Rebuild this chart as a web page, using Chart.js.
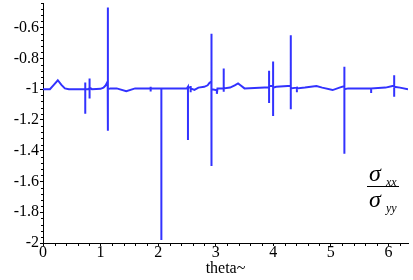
<!DOCTYPE html>
<html>
<head>
<meta charset="utf-8">
<script src="https://cdn.jsdelivr.net/npm/chart.js@4"></script>
<style>
html,body{margin:0;padding:0;background:#fff;}
#wrap{width:413px;height:280px;position:relative;}
</style>
</head>
<body>
<div id="wrap"><canvas id="plot"></canvas></div>
<script>
// theta values and the stress ratio (a spike = several points at the same theta)
const theta = [0,0.12,0.18,0.257,0.32,0.38,0.45,0.72,
  0.734,0.734,0.734,0.734,0.78,0.809,0.809,0.809,0.809,0.85,1.0,1.05,1.09,1.124,
  1.127,1.127,1.127,1.17,1.28,1.447,1.6,1.84,1.87,1.87,1.87,1.87,2.0,
  2.056,2.056,2.056,2.3,2.5,2.518,2.518,2.518,2.565,2.565,2.565,2.565,2.63,2.7,2.8,
  2.86,2.89,2.925,2.925,2.925,2.93,3.0,3.02,3.02,3.03,3.12,3.139,3.139,3.139,3.139,
  3.25,3.33,3.388,3.43,3.5,3.85,3.927,3.927,3.927,3.927,3.997,3.997,3.997,3.997,4.05,
  4.25,4.304,4.304,4.304,4.304,4.41,4.41,4.41,4.41,4.55,4.75,4.85,5.03,5.15,
  5.235,5.235,5.235,5.235,5.3,5.7,5.7,5.7,5.7,5.95,6.07,6.1,6.1,6.1,6.1,6.2,6.34];
const ratio = [-1,-1,-0.975,-0.942,-0.972,-0.995,-1,-1,
  -1.0,-0.957,-1.16,-1.0,-1.0,-0.995,-0.93,-1.06,-0.99,-1.0,-0.998,-0.99,-0.975,-0.95,
  -0.47,-1.27,-1.0,-0.995,-0.995,-1.013,-0.995,-0.995,-0.995,-0.985,-1.015,-0.995,-0.995,
  -0.995,-1.98,-0.995,-0.995,-0.995,-0.985,-1.33,-0.99,-0.99,-0.98,-1.02,-0.995,-1.005,-0.99,-0.985,
  -0.975,-0.96,-0.95,-0.64,-1.5,-1.0,-1.005,-1.005,-1.03,-0.995,-0.995,-0.995,-0.866,-1.017,-0.995,
  -0.99,-0.975,-0.963,-0.975,-0.995,-0.99,-0.99,-0.88,-1.09,-0.98,-0.98,-0.82,-1.175,-0.99,-0.985,
  -0.98,-0.98,-0.65,-1.13,-0.995,-0.99,-0.985,-1.02,-0.995,-0.99,-0.98,-0.99,-1.006,-0.99,
  -0.98,-0.855,-1.42,-1.0,-0.995,-0.995,-0.99,-1.025,-0.995,-0.99,-0.98,-0.98,-0.91,-1.05,-0.985,-0.99,-1.0];
const xTicks = [0,1,2,3,4,5,6];
const yTicks = [-2,-1.8,-1.6,-1.4,-1.2,-1,-0.8,-0.6];

const serif = 'Liberation Serif';
Chart.defaults.font.family = serif;
Chart.defaults.font.size = 16;
Chart.defaults.color = '#000';

const minorTicks = {
  id: 'minorTicks',
  afterDraw(chart){
    const ctx = chart.ctx, xs = chart.scales.x, ys = chart.scales.y;
    const a = chart.chartArea;
    ctx.save();
    ctx.strokeStyle = '#000';
    ctx.lineWidth = 1;
    ctx.beginPath();
    for (let k = 1; k < 32; k++) {
      if (k % 5 == 0) continue;
      const px = Math.round(xs.getPixelForValue(k * 0.2)) + 0.5;
      if (px > a.right) break;
      ctx.moveTo(px, a.bottom); ctx.lineTo(px, a.bottom + 3);
    }
    for (let k = 1; k < 40; k++) {
      if (k % 5 == 0) continue;
      const py = Math.round(ys.getPixelForValue(-2 + k * 0.04)) + 0.5;
      if (py < a.top) break;
      ctx.moveTo(a.left - 2, py); ctx.lineTo(a.left, py);
    }
    ctx.stroke();

    // sigma_xx / sigma_yy text
    ctx.fillStyle = '#000';
    ctx.textBaseline = 'alphabetic';
    ctx.textAlign = 'left';
    ctx.font = 'italic 24px ' + serif;
    ctx.fillText('\u03c3', 369, 181);
    ctx.fillText('\u03c3', 369, 207);
    ctx.font = 'italic 12px ' + serif;
    ctx.fillText('xx', 386, 186);
    ctx.fillText('yy', 386, 212);
    ctx.fillRect(367, 186, 32, 1);
    ctx.restore();
  }
};

new Chart(document.getElementById('plot'), {
  type: 'scatter',
  data: {
    datasets: [{
      data: theta.map((t, i) => ({x: t, y: ratio[i]})),
      showLine: true,
      borderColor: '#3232ff',
      borderWidth: 2,
      pointRadius: 0,
      tension: 0
    }]
  },
  options: {
    responsive: true,
    maintainAspectRatio: false,
    animation: false,
    layout: {padding: {top: 3, right: 5, left: 0, bottom: 0}},
    plugins: {legend: {display: false}, tooltip: {enabled: false}},
    scales: {
      x: {
        type: 'linear', min: 0, max: 6.34,
        afterBuildTicks: s => { s.ticks = xTicks.map(v => ({value: v})); },
        afterFit: s => { s.height = 37; s.paddingLeft = 0; s.paddingRight = 0; },
        ticks: {color: '#000', font: {family: serif, size: 16}, padding: -3, callback: v => String(v), maxRotation: 0},
        grid: {display: true, drawOnChartArea: false, drawTicks: true, tickLength: 3, color: '#000'},
        border: {display: true, color: '#000', width: 1},
        title: {display: true, text: 'theta~', color: '#000', font: {family: serif, size: 16}, padding: {top: -7, bottom: 2}}
      },
      y: {
        type: 'linear', min: -2, max: -0.44,
        afterBuildTicks: s => { s.ticks = yTicks.map(v => ({value: v})); },
        afterFit: s => { s.width = 43; s.paddingTop = 0; s.paddingBottom = 0; },
        ticks: {color: '#000', font: {family: serif, size: 16}, padding: 1, callback: v => String(v)},
        grid: {display: true, drawOnChartArea: false, drawTicks: true, tickLength: 3, color: '#000'},
        border: {display: true, color: '#000', width: 1}
      }
    }
  },
  plugins: [minorTicks]
});
</script>
</body>
</html>
